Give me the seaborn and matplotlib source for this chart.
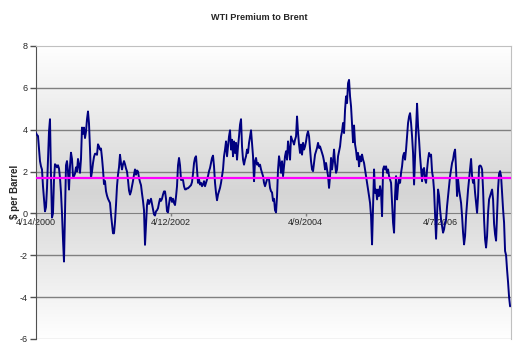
"""
plot.py
----------------------------------
Redraws the "WTI Premium to Brent" chart: the weekly spread of WTI over
Brent crude (in $ per barrel) from April 2000 to April 2007, together with
its long-run average, on an Excel-style gradient plot area.
"""

import matplotlib
matplotlib.use("Agg")  # Non-interactive backend for headless environments
import matplotlib.pyplot as plt
from matplotlib.colors import LinearSegmentedColormap
from matplotlib.ticker import FuncFormatter
import numpy as np
import pandas as pd
import seaborn as sns

# --------------------------------------------------------------------------
# Data ($ per barrel)
# --------------------------------------------------------------------------
START_DATE = "2000-04-14"
END_DATE = "2007-04-18"
X_MAX_DATE = "2007-04-23"

premium_2000 = [
    3.84, 3.75, 3.7, 3.1, 2.5, 2.25, 2.1, 1.3, 0.7, 0.1,
    0.3, 1.2, 2.6, 3.9, 4.5, 1.8, -0.2, 0.0, 1.6, 2.35,
    2.3, 2.2, 2.3, 2.15, 1.7, 1.0, 0.0, -1.24, -2.3, 0.0,
    2.3, 2.5, 2.0, 1.14, 2.25, 2.9, 2.6, 1.78, 1.78, 1.9,
    2.2, 2.0, 2.6, 2.3, 1.94, 2.6, 4.1, 3.8, 4.1, 3.6,
    3.9, 4.5, 4.87, 4.3, 3.1, 1.7, 2.0, 2.4, 2.7, 2.85,
    2.85, 2.8, 3.3, 3.2, 3.05, 3.1, 2.65, 2.1, 1.4, 1.55,
    1.06, 0.85, 0.7, 0.6, 0.5, -0.05, -0.5, -0.95, -0.95, -0.4,
]
premium_2001 = [
    0.4, 1.3, 1.85, 2.2, 2.8, 2.4, 2.1, 2.35, 2.5, 2.35,
    2.15, 2.0, 1.6, 1.1, 0.9, 1.05, 1.3, 1.55, 1.85, 2.1,
    1.85, 2.05, 2.0, 1.7, 1.5, 1.35, 0.95, 0.6, 0.15, -1.5,
    -0.6, 0.4, 0.65, 0.45, 0.6, 0.7, 0.45, 0.2, -0.05, -0.1,
    0.1, 0.15, 0.25, 0.5, 0.7, 0.6, 0.7, 0.9, 1.05, 1.05,
    0.7, 0.1, 0.05, 0.45, 0.75, 0.75, 0.55, 0.7, 0.5, 0.4,
    0.8, 1.3, 2.3, 2.65, 2.3, 1.6, 1.6, 1.6, 1.3, 1.15,
    1.15, 1.2, 1.2, 1.25, 1.3, 1.35, 1.5, 1.9, 2.4, 2.65, 2.73,
]
premium_2002 = [
    2.1, 1.46, 1.62, 1.38, 1.46, 1.3, 1.38, 1.54, 1.3, 1.46,
    1.62, 1.78, 2.02, 2.17, 2.41, 2.65, 2.76, 2.25, 1.46, 0.98,
    0.63, 0.9, 1.06, 1.22, 1.46, 1.78, 2.1, 2.73, 3.05, 3.44,
    2.73, 3.2, 3.68, 3.97, 3.05, 3.52, 2.73, 3.44, 2.89, 3.37,
    2.57, 3.2, 3.68, 4.24, 4.5, 3.2, 2.57, 2.33, 2.57, 2.73,
    3.05, 2.89, 3.37, 3.68, 3.97, 3.37, 2.73, 1.54, 2.49, 2.65,
    2.33, 2.41, 2.25, 2.33, 2.1, 1.94, 1.78, 1.46, 1.3, 1.46,
    1.62, 1.7, 1.62, 1.22, 1.06, 1.0, 0.6, 0.7, 0.15, 0.05,
]
premium_2004 = [
    0.83, 2.1, 2.73, 2.41, 1.94, 2.49, 1.78, 2.25, 2.73, 2.97,
    2.57, 3.44, 3.05, 2.57, 3.68, 3.52, 3.44, 3.29, 3.52, 3.68,
    4.63, 3.84, 3.29, 2.89, 3.29, 2.81, 3.37, 3.05, 3.2, 3.44,
    3.76, 3.92, 3.68, 3.05, 2.49, 2.1, 2.02, 2.41, 2.81, 2.97,
    3.13, 3.37, 3.13, 3.2, 3.05, 2.89, 2.73, 2.49, 2.1, 2.41,
    2.1, 1.78, 1.22, 1.78, 2.65, 2.1, 2.49, 3.05, 2.41, 1.94,
    2.1, 2.73, 2.97, 3.2, 3.68, 3.92, 4.32, 3.84, 4.95, 5.59,
    5.27, 6.22, 6.38, 5.59, 5.11, 4.25, 3.4, 4.2, 3.3, 3.0,
]
premium_2005 = [
    2.57, 2.89, 2.25, 2.73, 2.49, 2.81, 2.57, 2.41, 2.1, 1.78,
    1.46, 1.14, 0.83, 0.5, -0.13, -1.48, 0.35, 2.1, 0.98, 1.14,
    0.67, 1.14, 0.83, 1.3, 0.98, -0.13, 2.1, 2.25, 2.1, 2.25,
    1.94, 2.1, 1.78, 1.62, 1.46, 0.5, -0.44, -0.92, 0.83, 1.78,
    0.67, 1.3, 1.62, 1.46, 1.94, 2.25, 2.73, 2.89, 2.57, 3.05,
    3.68, 4.32, 4.63, 4.79, 4.32, 3.68, 2.89, 1.38, 2.73, 4.0,
    5.24, 4.16, 3.52, 2.73, 2.1, 1.54, 2.1, 2.17, 1.62, 1.46,
    2.1, 2.57, 2.89, 2.73, 2.81, 2.0, 1.7, 1.1, 0.0, -1.21,
]
premium_2006 = [
    0.03, 1.14, 0.83, 0.19, -0.29, -0.6, -0.92, -0.76, -0.44, -0.29,
    0.35, 0.83, 1.3, 1.78, 2.1, 2.41, 2.57, 2.89, 3.05, 2.1,
    0.83, 1.62, 1.14, 0.83, 0.5, -0.13, -0.92, -1.48, -1.08, -0.13,
    0.5, 1.14, 1.62, 2.1, 2.6, 1.78, 1.46, 1.62, 0.98, 0.5,
    0.03, 0.83, 2.25, 2.29, 2.25, 2.1, 1.14, -0.29, -1.24, -1.63,
    -1.08, 0.03, 0.67, 0.83, 0.98, 1.14, 0.67, -0.5, -1.0, -1.3,
    0.0, 1.2, 1.9, 2.02, 1.78, 0.98, 0.19, -0.44, -1.8, -2.0,
    -2.7, -3.3, -4.0, -4.44,
]

AVERAGE_PREMIUM = 1.71
TICK_DATES = ["2000-04-14", "2002-04-12", "2004-04-09", "2006-04-07"]
Y_TICKS = [-6, -4, -2, 0, 2, 4, 6, 8]

TITLE = "WTI Premium to Brent"
Y_LABEL = "$ per Barrel"
OUTPUT_PATH = "out.png"

# Plot area in figure fractions (520 x 355 px canvas)
AXES_RECT = [0.0692, 0.0451, 0.9135, 0.8254]


def build_frame() -> pd.DataFrame:
    """Join the yearly chunks into one evenly spaced series."""
    values = (premium_2000 + premium_2001 + premium_2002
              + premium_2004 + premium_2005 + premium_2006)
    dates = pd.date_range(START_DATE, END_DATE, periods=len(values))
    return pd.DataFrame({"date": dates, "premium": values})


def draw_background(fig) -> None:
    """Excel 'from center' gradient: grey in the middle, white at the edges."""
    bg = fig.add_axes(AXES_RECT, zorder=0)
    cmap = LinearSegmentedColormap.from_list(
        "xl_grad", ["#ffffff", "#d5d5d5", "#ffffff"])
    grad = np.linspace(0, 1, 256).reshape(-1, 1)
    bg.imshow(grad, aspect="auto", cmap=cmap, extent=[0, 1, 0, 1])
    bg.axis("off")


def make_chart(df: pd.DataFrame) -> None:
    sns.set_style("white")
    plt.rcParams["font.family"] = ["Liberation Sans", "DejaVu Sans"]
    plt.rcParams["axes.unicode_minus"] = False

    fig = plt.figure(figsize=(5.2, 3.55), dpi=100)
    draw_background(fig)

    ax = fig.add_axes(AXES_RECT, zorder=1)
    ax.patch.set_alpha(0)

    # --- gridlines and frame ---
    for y in Y_TICKS[1:-1]:
        if y != 0:
            ax.axhline(y, color="#808080", lw=1.0, zorder=1)
    ax.axhline(Y_TICKS[0], color="#c0c0c0", lw=1.0, zorder=1)

    # --- series ---
    sns.lineplot(data=df, x="date", y="premium", color="#000080",
                 lw=1.4, ax=ax, zorder=3)
    ax.axhline(AVERAGE_PREMIUM, color="#ff00ff", lw=1.6, zorder=4)

    ax.set_xlim(pd.Timestamp(START_DATE), pd.Timestamp(X_MAX_DATE))
    ax.set_ylim(Y_TICKS[0], Y_TICKS[-1])
    ax.set_xlabel("")
    ax.set_ylabel("")

    # --- axes styling ---
    ax.spines["bottom"].set_position(("data", 0))
    ax.spines["bottom"].set_color("#808080")
    ax.spines["bottom"].set_zorder(2)
    ax.spines["left"].set_color("#505050")
    for side in ("top", "right"):
        ax.spines[side].set_color("#c0c0c0")

    ax.set_yticks(Y_TICKS)
    ax.set_xticks(pd.to_datetime(TICK_DATES))
    ax.xaxis.set_major_formatter(
        FuncFormatter(lambda v, _: (lambda d: f"{d.month}/{d.day}/{d.year}")(
            matplotlib.dates.num2date(v))))
    ax.tick_params(axis="y", direction="out", length=4, width=1,
                   color="#505050", labelsize=6.5, pad=2, left=True)
    ax.tick_params(axis="x", direction="out", length=2, width=1,
                   color="#808080", labelsize=6.5, pad=1, bottom=True)

    fig.text(0.499, 1 - 17.5 / 355, TITLE, ha="center", va="center",
             fontsize=6.6, fontweight="bold")
    fig.text(15 / 520, 1 - 192 / 355, Y_LABEL, ha="center", va="center",
             rotation=90, fontsize=7.0, fontweight="bold")

    fig.savefig(OUTPUT_PATH, dpi=100)
    plt.close(fig)


def main():
    df = build_frame()
    make_chart(df)


if __name__ == "__main__":
    main()
